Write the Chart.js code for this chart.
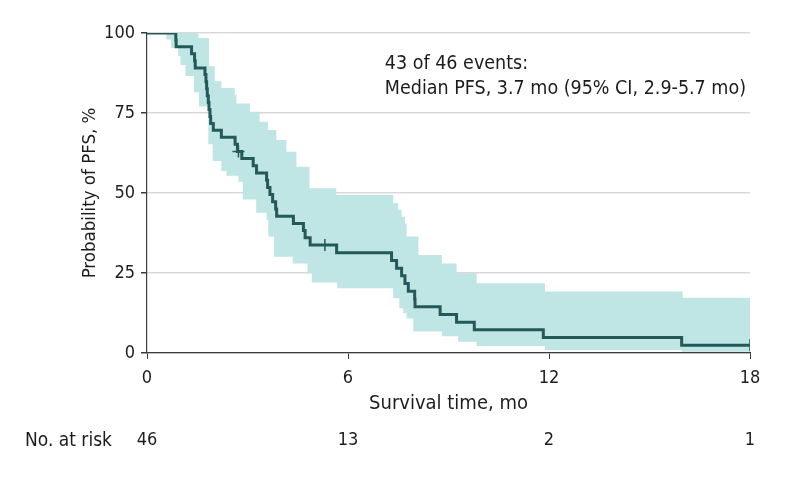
<!DOCTYPE html>
<html><head><meta charset="utf-8">
<script src="https://cdn.jsdelivr.net/npm/chart.js@4.4.1/dist/chart.umd.min.js"></script>
<style>html,body{margin:0;padding:0;background:#fff}#wrap{width:794px;height:483px;position:relative}</style>
</head><body><div id="wrap"><canvas id="c" width="794" height="483"></canvas></div>
<script>
const xTicks = [0, 6, 12, 18];
const yTicks = [0, 25, 50, 75, 100];
const atRisk = [46, 13, 2, 1];
const kmTimes = [0, 0.86, 0.87, 1.33, 1.42, 1.44, 1.73, 1.76, 1.78, 1.80, 1.83, 1.85, 1.88, 1.90, 1.98, 2.22, 2.63, 2.70, 2.83, 3.17, 3.27, 3.57, 3.60, 3.67, 3.75, 3.84, 3.87, 4.37, 4.67, 4.72, 4.87, 5.66, 7.30, 7.45, 7.60, 7.70, 7.80, 7.99, 8.00, 8.75, 9.24, 9.77, 11.83, 15.96, 18];
const kmSurv = [100, 97.8, 95.7, 93.5, 91.3, 89.1, 87.0, 84.8, 82.6, 80.4, 78.3, 76.1, 73.9, 71.7, 69.6, 67.4, 65.2, 63.0, 60.75, 58.5, 56.25, 54.0, 51.75, 49.5, 47.25, 45.0, 42.75, 40.5, 38.25, 36.0, 33.75, 31.34, 28.93, 26.52, 24.11, 21.70, 19.29, 16.88, 14.47, 12.05, 9.64, 7.23, 4.82, 2.41, 2.41];
const censorTimes = [2.73, 5.31, 18];
const censorSurv = [63.0, 33.75, 2.41];
const upperTimes = [0, 1.53, 1.85, 2.02, 2.22, 2.62, 2.67, 3.07, 3.36, 3.61, 3.86, 4.16, 4.46, 4.85, 5.65, 7.35, 7.50, 7.60, 7.70, 7.75, 8.10, 8.80, 9.24, 9.84, 11.88, 15.99, 18];
const upperVals = [100, 98.4, 89.6, 84.9, 82.8, 80.7, 78.0, 75.4, 72.3, 69.7, 66.6, 62.9, 58.2, 51.5, 49.4, 46.8, 44.7, 42.6, 40.5, 36.4, 30.6, 28.0, 24.9, 21.8, 19.2, 17.3, 17.3];
const lowerTimes = [0, 0.58, 0.72, 0.93, 1.00, 1.15, 1.40, 1.55, 1.83, 1.96, 2.22, 2.37, 2.73, 2.86, 3.26, 3.57, 3.62, 3.79, 4.35, 4.79, 4.92, 5.68, 7.35, 7.53, 7.65, 7.75, 7.95, 8.80, 9.29, 9.84, 11.88, 15.96, 18];
const lowerVals = [100, 98.0, 95.3, 92.8, 90.0, 86.6, 81.5, 77.0, 65.2, 60.0, 56.9, 55.4, 53.5, 48.0, 43.8, 41.6, 36.4, 30.1, 28.0, 24.9, 22.0, 20.2, 17.1, 14.0, 12.4, 10.8, 6.7, 5.2, 3.5, 2.2, 0.9, 0.4, 0.4];
const annotationLines = ['43 of 46 events:', 'Median PFS, 3.7 mo (95% CI, 2.9-5.7 mo)'];
const annotationAnchor = {x: 7.1, y: [90.3, 82.6]};
const riskLabel = 'No. at risk';

const C_LINE = '#24595a', C_BAND = '#bfe5e4', C_AXIS = '#3c3c3c', C_GRID = '#d9d9d9', C_TEXT = '#1c1c1c';
const FONT = "'DejaVu Sans Condensed', 'DejaVu Sans', sans-serif";
Chart.defaults.font.family = FONT;
Chart.defaults.color = C_TEXT;
const pts = (xs, ys) => xs.map((x, i) => ({x: x, y: ys[i]}));

const textPlugin = {
  id: 'texts',
  afterDraw(chart) {
    const ctx = chart.ctx, xs = chart.scales.x, ys = chart.scales.y, rs = chart.scales.risk;
    ctx.save();
    ctx.fillStyle = C_TEXT;
    ctx.textAlign = 'left';
    ctx.textBaseline = 'middle';
    ctx.font = '19.5px ' + FONT;
    annotationLines.forEach((t, i) => ctx.fillText(t, xs.getPixelForValue(annotationAnchor.x), ys.getPixelForValue(annotationAnchor.y[i])));
    ctx.font = '19px ' + FONT;
    const ry = rs.top + rs.options.ticks.padding + 18 * 1.2 / 2;
    ctx.fillText(riskLabel, 25, ry);
    ctx.restore();
  }
};

new Chart(document.getElementById('c'), {
  type: 'line',
  data: {
    datasets: [
      {label: 'PFS', data: pts(kmTimes, kmSurv), stepped: true, borderColor: C_LINE, borderWidth: 3, pointRadius: 0, fill: false, order: 0},
      {label: 'Censored', data: pts(censorTimes, censorSurv), showLine: false, pointStyle: 'cross', pointRadius: 6, pointBorderWidth: 1.5, borderColor: C_LINE, backgroundColor: C_LINE, order: 1},
      {label: 'Upper CI', data: pts(upperTimes, upperVals), stepped: true, borderColor: 'rgba(0,0,0,0)', borderWidth: 0, pointRadius: 0, backgroundColor: C_BAND, fill: '+1', order: 2},
      {label: 'Lower CI', data: pts(lowerTimes, lowerVals), stepped: true, borderColor: 'rgba(0,0,0,0)', borderWidth: 0, pointRadius: 0, fill: false, order: 3}
    ]
  },
  options: {
    responsive: false,
    animation: false,
    devicePixelRatio: 1,
    layout: {padding: {top: 33, right: 44, bottom: 17, left: 0}},
    plugins: {legend: {display: false}, tooltip: {enabled: false}},
    scales: {
      x: {
        type: 'linear', position: 'bottom', min: 0, max: 18, weight: 0,
        afterBuildTicks: s => { s.ticks = xTicks.map(v => ({value: v})); },
        afterFit: s => { s.height = 63; },
        grid: {drawOnChartArea: false, drawTicks: true, tickLength: 6, tickColor: C_AXIS},
        border: {display: true, color: C_AXIS, width: 1.2},
        ticks: {padding: 9, font: {size: 18}, color: C_TEXT, maxRotation: 0},
        title: {display: true, text: 'Survival time, mo', font: {size: 20}, color: C_TEXT, padding: {top: 0, bottom: 0}}
      },
      risk: {
        type: 'linear', position: 'bottom', min: 0, max: 18, weight: 1,
        afterBuildTicks: s => { s.ticks = xTicks.map(v => ({value: v})); },
        afterFit: s => { s.height = 50; },
        grid: {display: false, drawTicks: false},
        border: {display: false},
        ticks: {padding: 14, font: {size: 18}, color: C_TEXT, maxRotation: 0,
          callback: v => atRisk[xTicks.indexOf(v)]}
      },
      y: {
        type: 'linear', position: 'left', min: 0, max: 100,
        afterBuildTicks: s => { s.ticks = yTicks.map(v => ({value: v})); },
        afterFit: s => { s.width = 147; },
        grid: {color: C_GRID, lineWidth: 1.5, drawTicks: true, tickLength: 6, tickColor: C_AXIS},
        border: {display: true, color: C_AXIS, width: 1.2},
        ticks: {padding: 6, font: {size: 18}, color: C_TEXT},
        title: {display: true, text: 'Probability of PFS, %', font: {size: 18.5}, color: C_TEXT, padding: {top: 79, bottom: 0}}
      }
    }
  },
  plugins: [textPlugin]
});
</script>
</body></html>
